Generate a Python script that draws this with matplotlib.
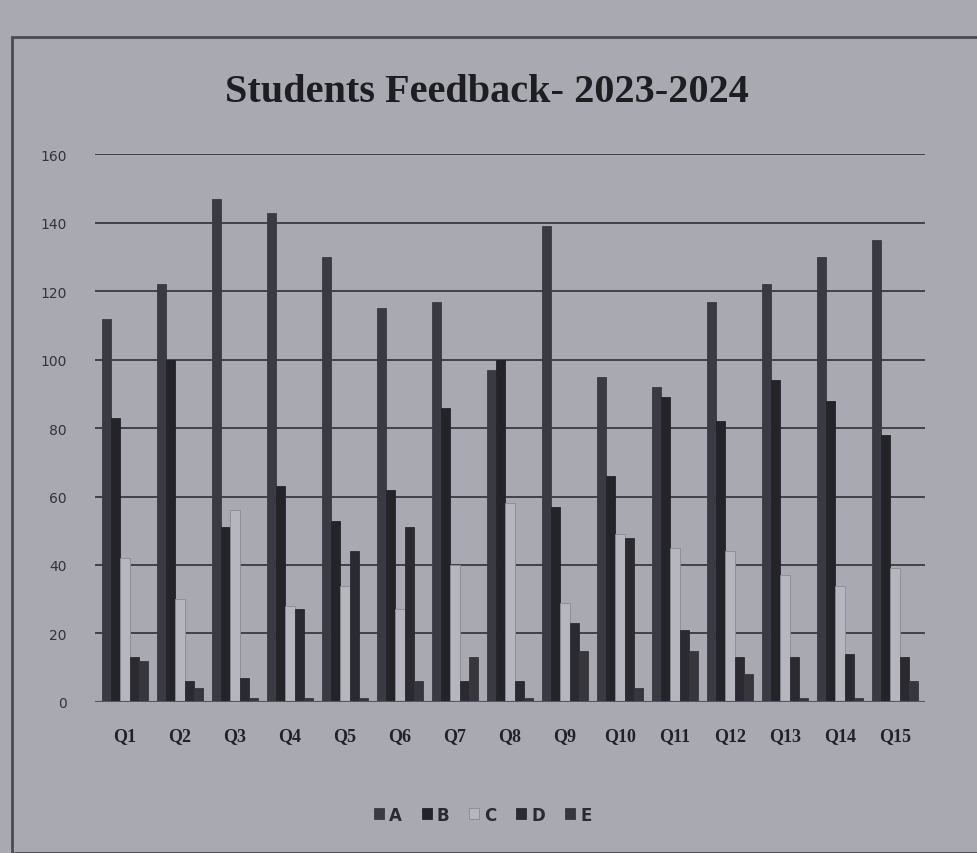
import numpy as np
import matplotlib.pyplot as plt
from matplotlib.patches import Rectangle

questions = ['Q1', 'Q2', 'Q3', 'Q4', 'Q5', 'Q6', 'Q7', 'Q8', 'Q9', 'Q10',
             'Q11', 'Q12', 'Q13', 'Q14', 'Q15']
grade_a = [112, 122, 147, 143, 130, 115, 117, 97, 139, 95, 92, 117, 122, 130, 135]
grade_b = [83, 100, 51, 63, 53, 62, 86, 100, 57, 66, 89, 82, 94, 88, 78]
grade_c = [42, 30, 56, 28, 34, 27, 40, 58, 29, 49, 45, 44, 37, 34, 39]
grade_d = [13, 6, 7, 27, 44, 51, 6, 6, 23, 48, 21, 13, 13, 14, 13]
grade_e = [12, 4, 1, 1, 1, 6, 13, 1, 15, 4, 15, 8, 1, 1, 6]

series = [('A', grade_a, '#3a3a42'), ('B', grade_b, '#232328'),
          ('C', grade_c, '#b6b6be'), ('D', grade_d, '#2a2a30'),
          ('E', grade_e, '#36363c')]

bg = '#a9a9b2'
fig = plt.figure(figsize=(9.77, 8.54), dpi=100, facecolor=bg)
ax = fig.add_axes([0.097, 0.177, 0.85, 0.641])
ax.set_facecolor(bg)

# outer chart frame
fig.patches.append(Rectangle((0.012, 0.0), 1.1, 0.955, transform=fig.transFigure,
                             fill=False, edgecolor='#4a4a50', linewidth=2))

x = np.arange(len(questions))
w = 0.17
for i, (name, vals, col) in enumerate(series):
    ax.bar(x + (i - 2) * w, vals, width=w, color=col, label=name, zorder=3,
           edgecolor='#8a8a92' if name == 'C' else col, linewidth=0.6)

ax.set_ylim(0, 160)
ax.set_xlim(-0.55, len(questions) - 0.45)
ax.set_yticks(range(0, 161, 20))
ax.grid(axis='y', color='#3a3a40', linewidth=1.3, zorder=0)
ax.axhline(0, color='#555560', linewidth=1.5, zorder=4)
for s in ax.spines.values():
    s.set_visible(False)
ax.tick_params(length=0)
ax.tick_params(axis='y', labelsize=10, labelcolor='#333338', pad=20)
ax.set_xticks(x)
ax.set_xticklabels(questions, fontfamily='Liberation Serif', fontweight='bold',
                   fontsize=13, color='#222226')
ax.tick_params(axis='x', pad=18)

fig.text(0.498, 0.892, 'Students Feedback- 2023-2024', ha='center', va='center',
         fontfamily='Liberation Serif', fontweight='bold', fontsize=29, color='#1e1e22')

fig.legend(loc='center', bbox_to_anchor=(0.494, 0.045), ncol=5, frameon=False,
           prop={'size': 12, 'weight': 'bold'}, handlelength=0.6, handleheight=0.6,
           handletextpad=0.3, columnspacing=1.2, labelcolor='#2a2a30')

plt.savefig('out.png', dpi=100, facecolor=bg)
